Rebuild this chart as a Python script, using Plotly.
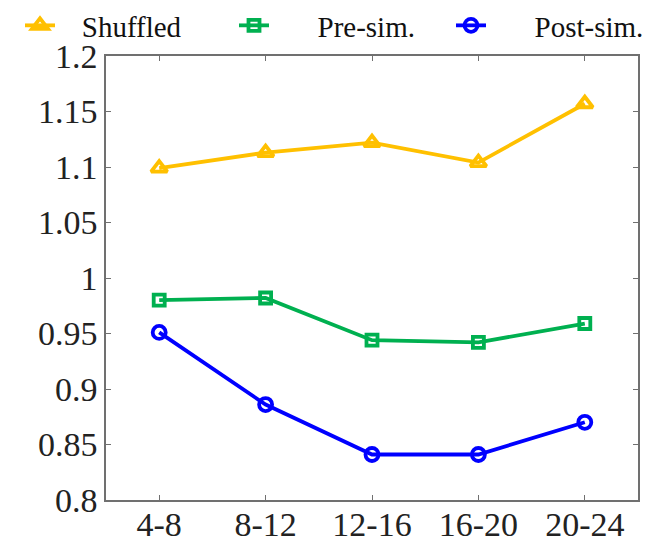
import plotly.graph_objects as go

# Hour-window categories on the x axis
windows = ["4-8", "8-12", "12-16", "16-20", "20-24"]

# Series values
shuffled = [1.099, 1.113, 1.122, 1.104, 1.157]
pre_sim = [0.980, 0.982, 0.944, 0.942, 0.959]
post_sim = [0.951, 0.886, 0.841, 0.841, 0.870]

# Y tick values and their labels
y_ticks = [0.8, 0.85, 0.9, 0.95, 1.0, 1.05, 1.1, 1.15, 1.2]
y_tick_text = ["0.8", "0.85", "0.9", "0.95", "1", "1.05", "1.1", "1.15", "1.2"]

FONT = "Times New Roman"
AXIS_COLOR = "#707070"
NBSP = "\u00a0"
W, H = 655, 541

# name, values, colour, marker symbol, marker size,
# legend id, legend left edge (px), legend text padding
series = [
    ("Shuffled", shuffled, "#FFC000", "triangle-up-open", 14, "legend", 20, 3),
    ("Pre-sim.", pre_sim, "#00B050", "square-open", 11, "legend2", 234, 6),
    ("Post-sim.", post_sim, "#0000FF", "circle-open", 13, "legend3", 451, 6),
]

fig = go.Figure()
legends = {}
for name, vals, color, symbol, msize, leg, left_px, pad in series:
    fig.add_trace(go.Scatter(
        x=windows, y=vals, name=NBSP * pad + name, mode="lines+markers",
        line=dict(color=color, width=3.8),
        marker=dict(symbol=symbol, size=msize, color=color,
                    line=dict(color=color, width=3.8)),
        legend=leg,
    ))
    legends[leg] = dict(
        orientation="h",
        xref="container", yref="container",
        x=left_px / W, xanchor="left",
        y=1.0, yanchor="top",
        font=dict(family=FONT, size=29, color="#111111"),
        bgcolor="rgba(0,0,0,0)", borderwidth=0,
    )

fig.update_layout(
    width=W, height=H,
    margin=dict(l=106, r=17, t=56, b=41, autoexpand=False),
    paper_bgcolor="white", plot_bgcolor="white",
    font=dict(family=FONT, color="#1a1a1a", size=34),
    showlegend=True,
    **legends,
)

fig.update_xaxes(
    type="category", range=[-0.5, 4.5],
    showline=True, linecolor=AXIS_COLOR, linewidth=1.5, mirror="ticks",
    ticks="inside", ticklen=5, tickcolor=AXIS_COLOR, tickwidth=1.2,
    showgrid=False, zeroline=False, ticklabelstandoff=-7,
    tickfont=dict(family=FONT, size=34, color="#222222"),
)
fig.update_yaxes(
    range=[0.8, 1.2], tickvals=y_ticks, ticktext=y_tick_text,
    showline=True, linecolor=AXIS_COLOR, linewidth=1.5, mirror="ticks",
    ticks="inside", ticklen=5, tickcolor=AXIS_COLOR, tickwidth=1.2,
    showgrid=False, zeroline=False,
    tickfont=dict(family=FONT, size=34, color="#222222"),
)

fig.write_html("out.html")
